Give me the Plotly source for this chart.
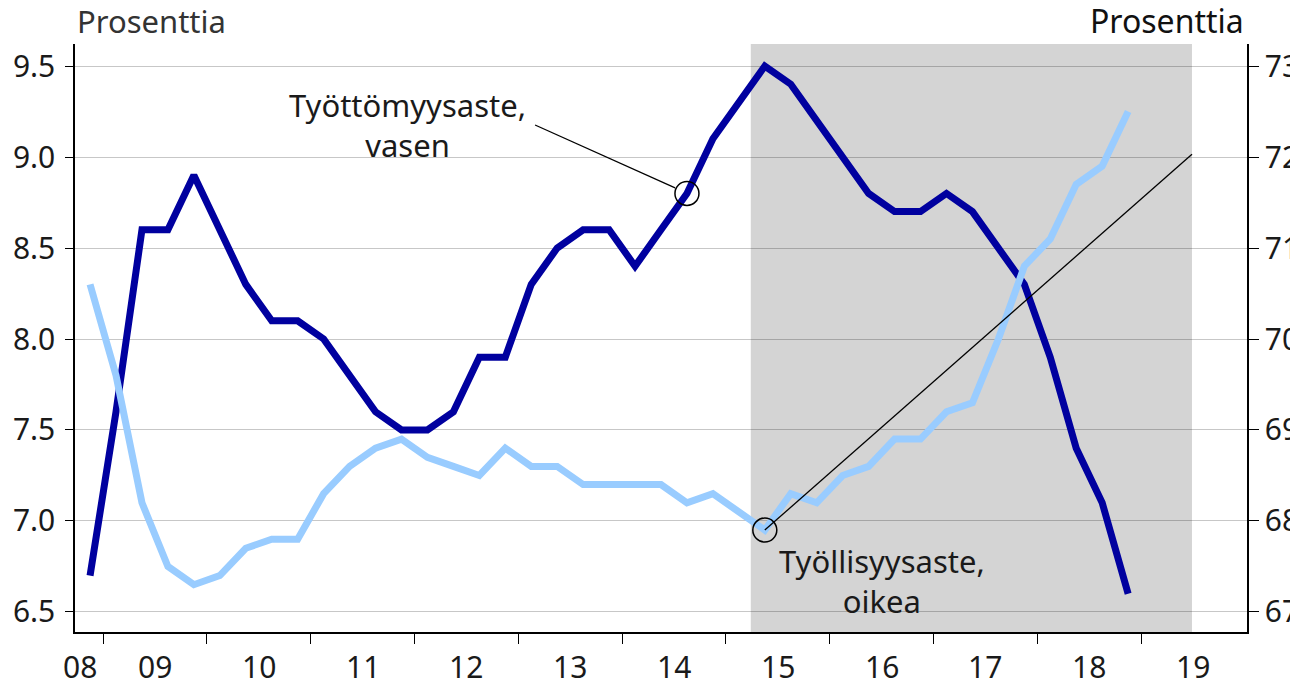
import plotly.graph_objects as go

# ---- data (quarterly, 2008Q4 .. 2018Q4) ----
quarters = [f"{y}Q{q}" for y in range(2008, 2019) for q in range(1, 5)][3:]
unemployment = [6.7, 7.6, 8.6, 8.6, 8.9, 8.6, 8.3, 8.1, 8.1, 8.0, 7.8, 7.6, 7.5, 7.5,
                7.6, 7.9, 7.9, 8.3, 8.5, 8.6, 8.6, 8.4, 8.6, 8.8, 9.1, 9.3, 9.5, 9.4,
                9.2, 9.0, 8.8, 8.7, 8.7, 8.8, 8.7, 8.5, 8.3, 7.9, 7.4, 7.1, 6.6]
employment = [70.6, 69.6, 68.2, 67.5, 67.3, 67.4, 67.7, 67.8, 67.8, 68.3, 68.6, 68.8,
              68.9, 68.7, 68.6, 68.5, 68.8, 68.6, 68.6, 68.4, 68.4, 68.4, 68.4, 68.2,
              68.3, 68.1, 67.9, 68.3, 68.2, 68.5, 68.6, 68.9, 68.9, 69.2, 69.3, 70.0,
              70.8, 71.1, 71.7, 71.9, 72.5]
year_labels = ["08", "09", "10", "11", "12", "13", "14", "15", "16", "17", "18", "19"]
year_label_pos = [2008.78] + [y + 0.5 for y in range(2009, 2020)]
year_ticks = list(range(2009, 2020))
left_ticks = [6.5, 7.0, 7.5, 8.0, 8.5, 9.0, 9.5]
right_ticks = [67, 68, 69, 70, 71, 72, 73]
shade_period = (2015.24, 2019.49)


def qx(s):
    y, q = s.split("Q")
    return int(y) + (int(q) - 0.5) / 4


x = [qx(s) for s in quarters]

FONT = "Noto Sans"
TXT = "#1a1a1a"
DARK = "#00009f"
LIGHT = "#99ccff"

fig = go.Figure()
fig.add_trace(go.Scatter(x=x, y=employment, mode="lines", name="Työllisyysaste",
                         line=dict(color=LIGHT, width=7), yaxis="y2"))
fig.add_trace(go.Scatter(x=x, y=unemployment, mode="lines", name="Työttömyysaste",
                         line=dict(color=DARK, width=7), yaxis="y"))

# shaded period
fig.add_shape(type="rect", xref="x", yref="paper", x0=shade_period[0], x1=shade_period[1],
              y0=0, y1=1, fillcolor="#d4d4d4", line_width=0, layer="below")

# annotation 1: unemployment circle + leader line
i1 = quarters.index("2014Q3")
fig.add_shape(type="circle", xref="x", yref="y", xsizemode="pixel", ysizemode="pixel",
              xanchor=x[i1], yanchor=unemployment[i1], x0=-12, x1=12, y0=-12, y1=12,
              line=dict(color="black", width=1.5))
fig.add_shape(type="line", xref="x", yref="y", x0=2013.162, y0=9.176, x1=2014.511, y1=8.830,
              line=dict(color="black", width=1.3))
fig.add_annotation(x=2011.93, y=9.176, xref="x", yref="y", text="Työttömyysaste,<br>vasen",
                   showarrow=False, font=dict(family=FONT, size=31, color=TXT), align="center")

# annotation 2: employment circle + leader line
i2 = quarters.index("2015Q2")
fig.add_shape(type="circle", xref="x", yref="y2", xsizemode="pixel", ysizemode="pixel",
              xanchor=x[i2], yanchor=employment[i2], x0=-12, x1=12, y0=-12, y1=12,
              line=dict(color="black", width=1.5))
fig.add_shape(type="line", xref="x", yref="y2", x0=x[i2], y0=employment[i2],
              x1=shade_period[1], y1=72.03, line=dict(color="black", width=1.3))
fig.add_annotation(x=2016.505, y=6.67, xref="x", yref="y", text="Työllisyysaste,<br>oikea",
                   showarrow=False, font=dict(family=FONT, size=31, color=TXT), align="center")

# year labels
for lab, pos in zip(year_labels, year_label_pos):
    fig.add_annotation(x=pos, y=0, xref="x", yref="paper", text=lab, showarrow=False,
                       yanchor="middle", yshift=-34, font=dict(family=FONT, size=30, color=TXT))

# axis titles
fig.add_annotation(x=0.0, y=1.0, xref="paper", yref="paper", text="Prosenttia",
                   showarrow=False, xanchor="left", yanchor="bottom", yshift=0,
                   font=dict(family=FONT, size=31, color="#333333"))
fig.add_annotation(x=0.999, y=1.0, xref="paper", yref="paper", text="Prosenttia",
                   showarrow=False, xanchor="right", yanchor="bottom", yshift=0,
                   font=dict(family=FONT, size=32, color="#111111"))

# page body has an 8px default margin: compensate so the plot lands where the reference has it
fig.update_layout(
    width=1290, height=677,
    margin=dict(l=67, r=51, t=36, b=53, autoexpand=False),
    paper_bgcolor="white", plot_bgcolor="white",
    showlegend=False,
    font=dict(family=FONT, size=30, color=TXT),
    xaxis=dict(range=[2008.73, 2020.02], tickvals=year_ticks, showticklabels=False,
               ticks="outside", ticklen=10, tickcolor="black", tickwidth=1.2,
               showline=True, linecolor="black", linewidth=1.5, showgrid=False,
               zeroline=False, automargin=False),
    yaxis=dict(range=[6.39, 9.621], tickvals=left_ticks,
               ticktext=[f"{v:.1f}" for v in left_ticks],
               ticks="outside", ticklen=8, tickcolor="black", tickwidth=1.2,
               showline=True, linecolor="black", linewidth=1.5,
               showgrid=True, gridcolor="rgba(0,0,0,0.22)", gridwidth=1,
               zeroline=False, ticklabelstandoff=4, automargin=False,
               tickfont=dict(family=FONT, size=30, color=TXT)),
    yaxis2=dict(range=[66.78, 73.242], tickvals=right_ticks, overlaying="y", side="right",
                ticks="outside", ticklen=10, tickcolor="black", tickwidth=1.2,
                showline=True, linecolor="black", linewidth=1.5, showgrid=False,
                zeroline=False, ticklabelstandoff=0, automargin=False,
                tickfont=dict(family=FONT, size=30, color=TXT)),
)

fig.write_html("out.html")
